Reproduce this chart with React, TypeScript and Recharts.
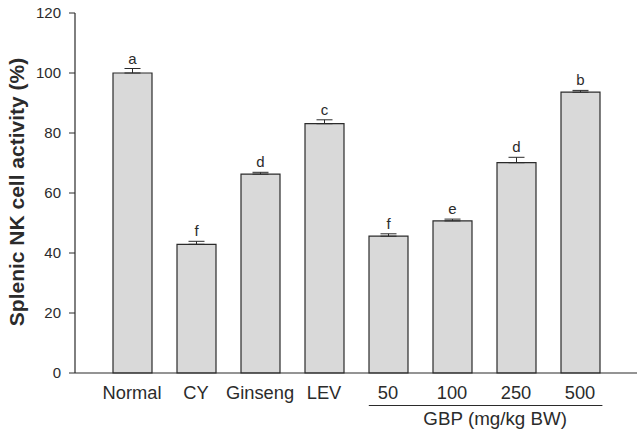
import React from "react";
import {
  BarChart,
  Bar,
  XAxis,
  YAxis,
  ErrorBar,
  LabelList,
} from "recharts";

const CATEGORIES = ["Normal", "CY", "Ginseng", "LEV", "50", "100", "250", "500"];
const VALUES = [100, 42.9, 66.3, 83.1, 45.6, 50.7, 70.1, 93.6];
const ERRORS = [1.5, 1.0, 0.6, 1.3, 0.8, 0.6, 1.8, 0.6];
const LETTERS = ["a", "f", "d", "c", "f", "e", "d", "b"];
const Y_TICKS = [0, 20, 40, 60, 80, 100, 120];

const data = CATEGORIES.map((name, i) => ({
  name,
  value: VALUES[i],
  err: [0, ERRORS[i]],
  letter: LETTERS[i],
}));

const FONT = "Arial, 'Liberation Sans', sans-serif";
const INK = "#2b2b2b";
const PLOT_H = 360;
const Y_MAX = 120;

function CategoryTick(props: any) {
  const { x, y, payload, index } = props;
  const half = payload?.offset ?? 32;
  return (
    <g>
      <text
        x={x}
        y={y + 18}
        textAnchor="middle"
        fontFamily={FONT}
        fontSize={18.3}
        fill={INK}
      >
        {payload.value}
      </text>
      {index === 4 && (
        <g>
          <line
            x1={x - half * 0.6}
            x2={x + 6 * half + half * 0.7}
            y1={y + 24.5}
            y2={y + 24.5}
            stroke={INK}
            strokeWidth={1.2}
          />
          <text
            x={x + 3.35 * half}
            y={y + 44}
            textAnchor="middle"
            fontFamily={FONT}
            fontSize={18.8}
            fill={INK}
          >
            GBP (mg/kg BW)
          </text>
        </g>
      )}
    </g>
  );
}

function LetterLabel(props: any) {
  const { x, y, width, index } = props;
  const errPx = (ERRORS[index] * PLOT_H) / Y_MAX;
  return (
    <text
      x={x + width / 2}
      y={y - errPx - 5}
      textAnchor="middle"
      fontFamily={FONT}
      fontSize={15}
      fill={INK}
    >
      {LETTERS[index]}
    </text>
  );
}

export default function App() {
  return (
    <div style={{ position: "absolute", left: 0, top: 0, background: "#fff" }}>
      <BarChart
        width={644}
        height={437}
        data={data}
        margin={{ top: 13, right: 7, bottom: 0, left: 0 }}
      >
        <XAxis
          dataKey="name"
          padding={{ left: 25, right: 25 }}
          tickLine={false}
          axisLine={{ stroke: INK, strokeWidth: 1.2 }}
          tick={<CategoryTick />}
          interval={0}
          height={64}
        />
        <YAxis
          domain={[0, Y_MAX]}
          ticks={Y_TICKS}
          width={75}
          tickSize={6}
          tickMargin={8}
          tickLine={{ stroke: INK }}
          axisLine={{ stroke: INK, strokeWidth: 1.2 }}
          tick={{ fontFamily: FONT, fontSize: 15, fill: INK }}
          label={{
            content: () => (
              <text
                x={24}
                y={192}
                transform="rotate(-90 24 192)"
                textAnchor="middle"
                fontFamily={FONT}
                fontWeight="bold"
                fontSize={21}
                fill={INK}
              >
                Splenic NK cell activity (%)
              </text>
            ),
          }}
        />
        <Bar
          dataKey="value"
          barSize={39}
          fill="#d9d9d9"
          stroke={INK}
          strokeWidth={1.2}
          isAnimationActive={false}
        >
          <ErrorBar
            dataKey="err"
            direction="y"
            width={8}
            stroke={INK}
            strokeWidth={1}
            isAnimationActive={false}
          />
          <LabelList dataKey="letter" content={<LetterLabel />} />
        </Bar>
      </BarChart>
    </div>
  );
}
